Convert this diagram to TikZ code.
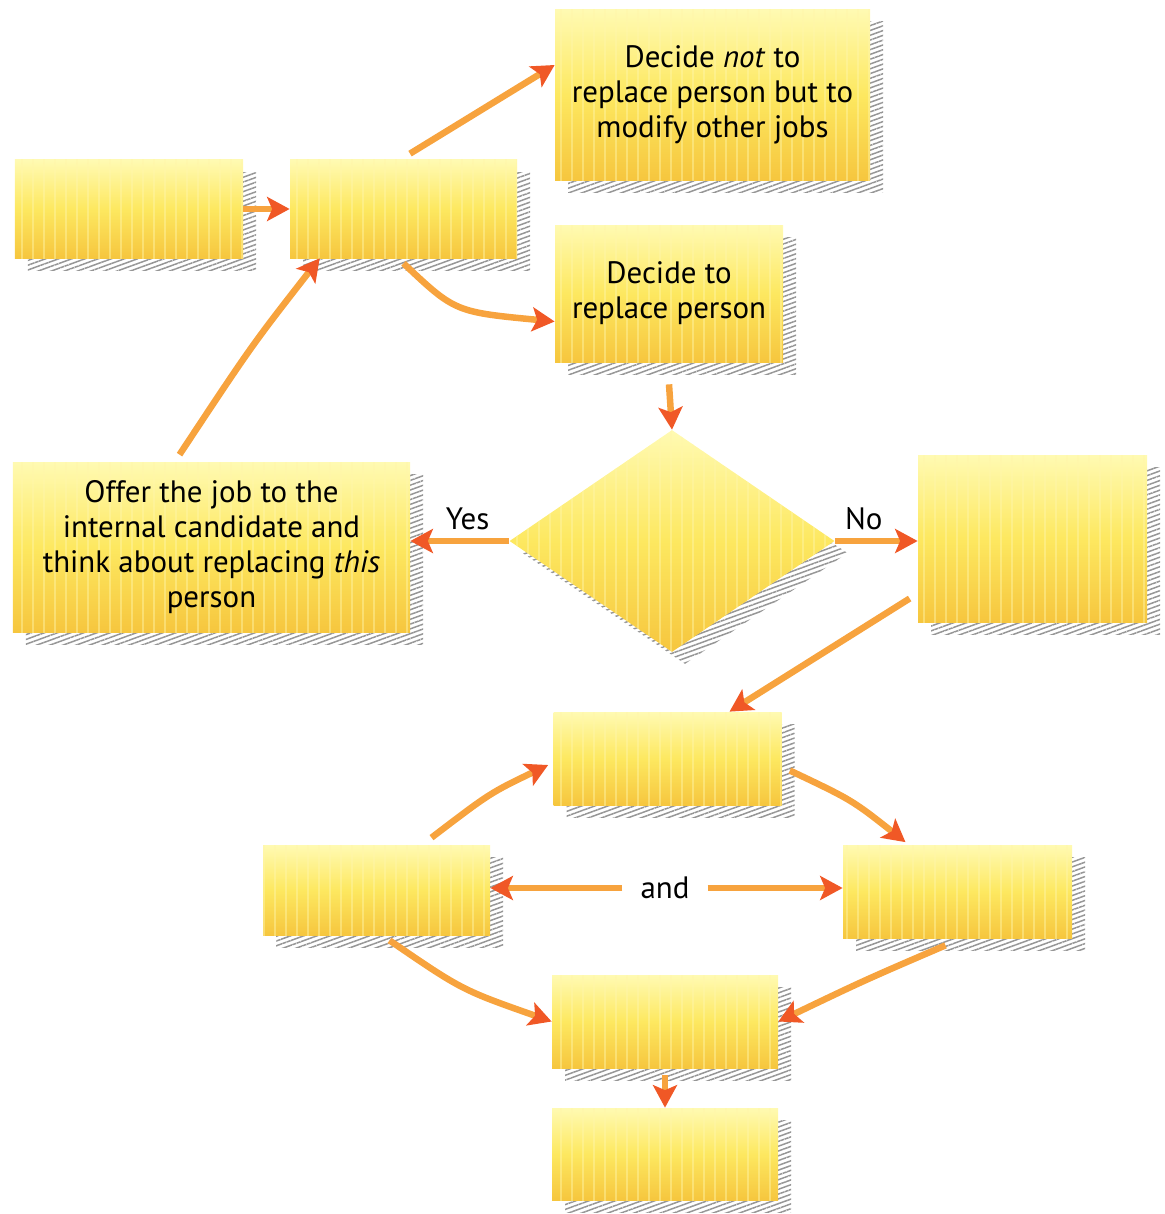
\documentclass[tikz,border=0pt]{standalone}
\usepackage{fontspec}
\setmainfont{PT Sans}
\usetikzlibrary{arrows.meta,shapes.geometric,patterns.meta}

\definecolor{boxtop}{RGB}{255,250,178}
\definecolor{boxmid}{RGB}{253,232,96}
\definecolor{boxbot}{RGB}{246,198,62}
\definecolor{stripe}{RGB}{255,246,170}
\definecolor{arrowbody}{RGB}{247,163,62}
\definecolor{arrowhead}{RGB}{240,88,38}
\definecolor{shadowgray}{RGB}{150,150,150}

\begin{document}
\begin{tikzpicture}[x=0.2mm, y=-0.2mm,
  font=\fontsize{17.6}{20}\selectfont,
  shadowed/.style={preaction={transform canvas={xshift=2.6mm,yshift=-2.4mm},
      pattern={Lines[angle=20,distance=0.9mm,line width=0.3mm]}, pattern color=shadowgray}},
  stripes/.style={postaction={pattern={Lines[angle=90,distance=2.2mm,line width=0.4mm]},
      pattern color=stripe, opacity=0.45}},
  box/.style={shadowed, stripes, rectangle, inner sep=0pt, align=center,
      top color=boxtop, bottom color=boxbot, middle color=boxmid},
  choice/.style={shadowed, stripes, diamond, inner sep=0pt,
      top color=boxtop, bottom color=boxbot, middle color=boxmid},
  flowarrow/.style={draw=arrowbody, line width=1.3mm,
      -{Stealth[length=4.5mm,width=4.8mm,inset=1mm,color=arrowhead]}}]

\useasboundingbox (0,0) rectangle (1165,1214);

% Boxes of the first row
\node[box, minimum width=45.6mm, minimum height=19.6mm] (start) at (129,209) {};
\node[box, minimum width=45.4mm, minimum height=19.6mm] (review) at (403.5,209) {};
\node[box, minimum width=63mm, minimum height=34mm] (modify) at (712.5,95)
  {Decide \textit{not} to\\replace person but to\\modify other jobs};
\node[box, minimum width=45.6mm, minimum height=27.4mm] (replace) at (669,293.5)
  {Decide to\\replace person};

% The decision and its two outcomes
\node[choice, minimum width=65mm, minimum height=44.4mm] (internal) at (672,541) {};
\node[box, minimum width=79.4mm, minimum height=34mm] (offer) at (211.5,547)
  {Offer the job to the\\internal candidate and\\think about replacing \textit{this}\\person};
\node[box, minimum width=45.8mm, minimum height=33.4mm] (external) at (1032.5,538.5) {};

% Lower boxes
\node[box, minimum width=45.6mm, minimum height=18.6mm] (recruit) at (667.5,758.5) {};
\node[box, minimum width=45.4mm, minimum height=18mm] (jobdesc) at (376.5,890) {};
\node[box, minimum width=45.8mm, minimum height=18.6mm] (personspec) at (957.5,891.5) {};
\node[box, minimum width=45.2mm, minimum height=18.6mm] (select) at (665,1021.5) {};
\node[box, minimum width=45.2mm, minimum height=18.4mm] (appoint) at (665,1154) {};

% Arrows of the top part
\draw[flowarrow] (start.east) -- (review.west);
\draw[flowarrow] ([xshift=1.3mm,yshift=1.2mm]review.north) -- ([yshift=6mm]modify.west);
\draw[flowarrow] ([yshift=-1mm]review.south) .. controls (455,312) .. ([yshift=-5.6mm]replace.west);
\draw[flowarrow] ([yshift=-4.4mm]replace.south) -- (internal.north);
\draw[flowarrow] ([xshift=-6.4mm,yshift=1.4mm]offer.north) .. controls (252,345) .. ([xshift=6mm]review.south west);

% Yes and No
\draw[flowarrow] (internal.west) -- node[above, pos=0.42, yshift=0.4mm] (yes) {Yes} (offer.east |- internal.west);
\draw[flowarrow] (internal.east) -- node[above, pos=0.35, yshift=0.4mm] (no) {No} (external.west |- internal.east);

% Arrows of the lower part
\draw[flowarrow] ([xshift=-1.6mm,yshift=-12mm]external.west) -- ([xshift=12.4mm]recruit.north);
\draw[flowarrow] ([xshift=11mm,yshift=1.4mm]jobdesc.north) .. controls (490,793) .. ([xshift=-1mm,yshift=-1.3mm]recruit.west);
\draw[flowarrow] ([xshift=1.6mm,yshift=-2.4mm]recruit.east) .. controls (852,800) .. ([xshift=-10.4mm,yshift=0.5mm]personspec.north);
\node (and) at (665,888) {and};
\draw[flowarrow] ([xshift=-2.4mm]and.west) -- (jobdesc.east |- and.west);
\draw[flowarrow] ([xshift=2.4mm]and.east) -- (personspec.west |- and.east);
\draw[flowarrow] ([xshift=2.6mm,yshift=-1mm]jobdesc.south) .. controls (462,990) .. (select.west);
\draw[flowarrow] ([xshift=-2.4mm,yshift=-1.4mm]personspec.south) .. controls (865,980) .. (select.east);
\draw[flowarrow] ([yshift=-1.4mm]select.south) -- (appoint.north);

\end{tikzpicture}
\end{document}
